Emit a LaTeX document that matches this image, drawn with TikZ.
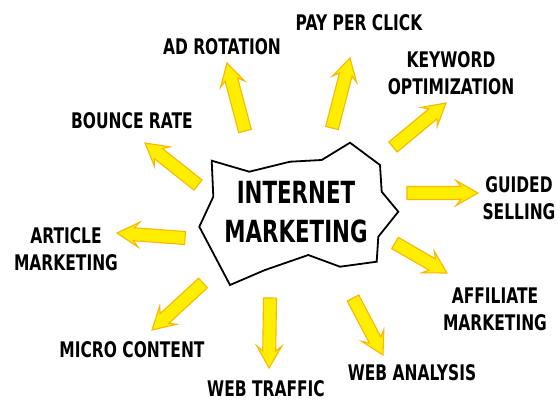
\documentclass[tikz,border=0pt]{standalone}
\usepackage{fontspec}
\setmainfont{DejaVu Sans}
\newfontfamily\labelfont{DejaVu Sans}[FakeStretch=0.72]
\newfontfamily\titlefont{DejaVu Sans}[FakeStretch=0.70]
\usetikzlibrary{calc}

\definecolor{arrowfill}{RGB}{255,238,0}
\definecolor{arrowedge}{RGB}{249,184,0}

% Block arrow from #1 (tail) to #2 (tip), with swept-back barbs
\newcommand\fatarrow[2]{%
  \path (#1) coordinate (fa-t) (#2) coordinate (fa-h)
        ($(fa-h)!17pt!(fa-t)$) coordinate (fa-b)
        ($(fa-h)!22pt!(fa-t)$) coordinate (fa-w);
  \draw[blockarrow]
    ($(fa-t)!6.5pt!90:(fa-h)$) -- ($(fa-b)!6.5pt!90:(fa-h)$)
    -- ($(fa-w)!12.5pt!90:(fa-h)$) -- (fa-h)
    -- ($(fa-w)!12.5pt!-90:(fa-h)$) -- ($(fa-b)!6.5pt!-90:(fa-h)$)
    -- ($(fa-t)!6.5pt!-90:(fa-h)$) -- cycle;
}

\begin{document}
\begin{tikzpicture}[x=1pt,y=-1pt,
  lbl/.style={font=\labelfont\bfseries\fontsize{21.5}{27}\selectfont,
              align=center, inner sep=0pt},
  title/.style={font=\titlefont\bfseries\fontsize{30.5}{39}\selectfont,
              align=center, inner sep=0pt},
  blockarrow/.style={fill=arrowfill, draw=arrowedge, line width=1.1pt,
              line join=miter},
  blob/.style={draw=black, line width=1.8pt, fill=white, line join=miter}]

\fill[white] (0,0) rectangle (560,402);
\useasboundingbox (0,0) rectangle (560,402);

% central torn-paper shape
\draw[blob] (211.7,160.7) -- (249.3,171.7) -- (290,161.7) -- (321.7,160)
  -- (350,142.7) -- (380,165) -- (381.7,191.7) -- (398.3,211.7)
  -- (378.3,236.7) -- (376.7,261.7) -- (340,266.7) -- (308.3,255)
  -- (265,270) -- (230,285) -- (199.3,226.7) -- (213.3,196.7) -- cycle;
\node[title] (center) at (296,212.5) {INTERNET\\MARKETING};

% outer labels
\node[lbl] (adrot)   at (222,47)  {AD ROTATION};
\node[lbl] (ppc)     at (359,23)  {PAY PER CLICK};
\node[lbl] (keyword) at (451,73.5){KEYWORD\\OPTIMIZATION};
\node[lbl] (bounce)  at (132,121) {BOUNCE RATE};
\node[lbl] (guided)  at (519,198) {GUIDED\\SELLING};
\node[lbl] (article) at (66,249.5){ARTICLE\\MARKETING};
\node[lbl] (affil)   at (495,309.5){AFFILIATE\\MARKETING};
\node[lbl] (micro)   at (132,350) {MICRO CONTENT};
\node[lbl] (traffic) at (266,389) {WEB TRAFFIC};
\node[lbl] (analysis) at (412,373){WEB ANALYSIS};

% arrow ends
\coordinate (adrot-t) at (245,131);   \coordinate (adrot-h) at (227,63);
\coordinate (bounce-t) at (198,185);  \coordinate (bounce-h) at (145,143);
\coordinate (ppc-t) at (332,128);     \coordinate (ppc-h) at (350,58);
\coordinate (keyword-t) at (393,147); \coordinate (keyword-h) at (446,103);
\coordinate (guided-t) at (407,193);  \coordinate (guided-h) at (478,193);
\coordinate (affil-t) at (395,243);   \coordinate (affil-h) at (447,273);
\coordinate (analysis-t) at (353,298);\coordinate (analysis-h) at (383,355);
\coordinate (traffic-t) at (270,298); \coordinate (traffic-h) at (269,368);
\coordinate (micro-t) at (203,283);   \coordinate (micro-h) at (152,330);
\coordinate (article-t) at (185,238); \coordinate (article-h) at (117,233);

\foreach \a in {adrot,bounce,ppc,keyword,guided,affil,analysis,traffic,micro,article}
  {\fatarrow{\a-t}{\a-h}}
\end{tikzpicture}
\end{document}
